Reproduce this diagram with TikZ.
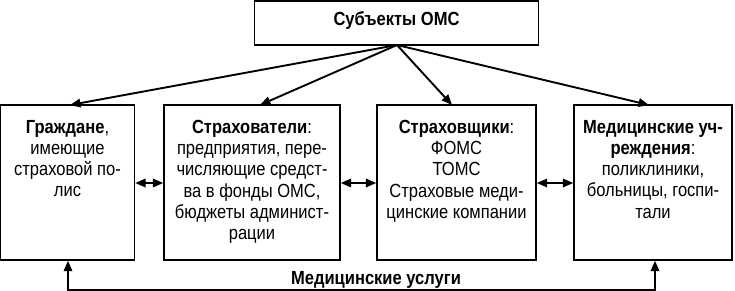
\documentclass[tikz,border=0pt]{standalone}
\usepackage{fontspec}
\setmainfont{Liberation Sans}[FakeStretch=0.87]
\usetikzlibrary{arrows.meta}
\tikzset{
  boxnode/.style={draw=black, line width=1.4pt, minimum width=#1, minimum height=155pt, inner sep=0pt},
  txt/.style={align=center, inner sep=0pt, anchor=north, font=\fontsize{19}{21.2}\selectfont},
  conn/.style={line width=1.9pt, -{Triangle[length=10.5pt,width=8.5pt]}},
  dconn/.style={line width=1.9pt, {Triangle[length=10.5pt,width=8.5pt]}-{Triangle[length=10.5pt,width=8.5pt]}}
}
\begin{document}
\begin{tikzpicture}[x=1pt,y=1pt]
\useasboundingbox (0,0) rectangle (735,-291);
\node[draw=black, line width=1.4pt, minimum width=284pt, minimum height=44pt, inner sep=0pt] (top) at (396.5,-23) {};
\node[font=\fontsize{19}{21}\selectfont\bfseries, inner sep=0pt] (toptxt) at (396.5,-21) {Субъекты ОМС};
\node[boxnode=134pt] (b1) at (67.5,-182.5) {};
\node[boxnode=176pt] (b2) at (252,-182.5) {};
\node[boxnode=159pt] (b3) at (456.5,-182.5) {};
\node[boxnode=158pt] (b4) at (653,-182.5) {};
\node[txt] (t1) at (67.5,-120) {\textbf{Граждане},\\имеющие\\страховой по-\\лис};
\node[txt] (t2) at (252,-120) {\textbf{Страхователи}:\\предприятия, пере-\\числяющие средст-\\ва в фонды ОМС,\\бюджеты админист-\\рации};
\node[txt] (t3) at (456.5,-120) {\textbf{Страховщики}:\\ФОМС\\ТОМС\\Страховые меди-\\цинские компании};
\node[txt] (t4) at (653,-120) {\textbf{Медицинские уч-}\\\textbf{реждения}:\\поликлиники,\\больницы, госпи-\\тали};
\coordinate (e1) at (70,-105);
\coordinate (e2) at (260,-105);
\coordinate (e3) at (452,-105);
\coordinate (e4) at (649,-105);
\coordinate (src) at (397,-45);
\draw[conn] (src) -- (e1);
\draw[conn] (src) -- (e2);
\draw[conn] (src) -- (e3);
\draw[conn] (src) -- (e4);
\draw[dconn] (b1.east |- 0,-183) -- (b2.west |- 0,-183);
\draw[dconn] (b2.east |- 0,-183) -- (b3.west |- 0,-183);
\draw[dconn] (b3.east |- 0,-183) -- (b4.west |- 0,-183);
\coordinate (m1) at (68,-290);
\coordinate (m2) at (655,-290);
\draw[dconn] (m1 |- b1.south) -- (m1) -- (m2) -- (m2 |- b4.south);
\node[font=\fontsize{19}{21}\selectfont\bfseries, inner sep=0pt] (lbl) at (376,-280) {Медицинские услуги};
\end{tikzpicture}
\end{document}
